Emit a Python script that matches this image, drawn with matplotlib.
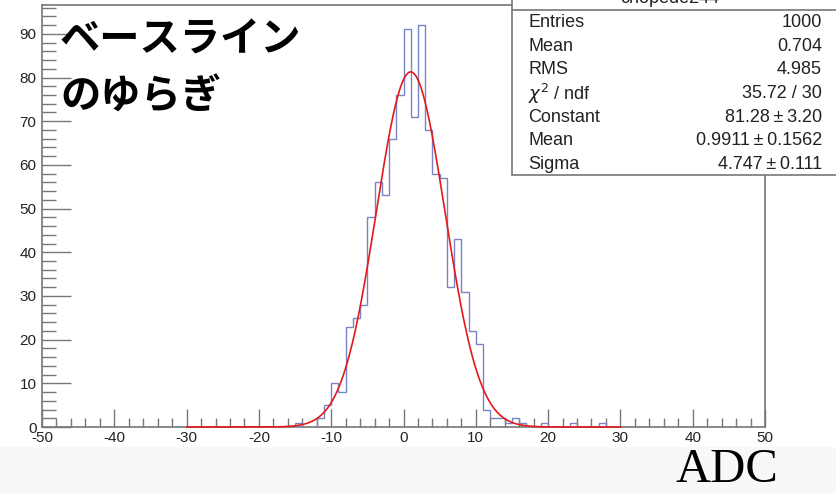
import numpy as np
import matplotlib
matplotlib.use("Agg")
import matplotlib.pyplot as plt
from matplotlib.patches import Rectangle
from matplotlib.lines import Line2D

plt.rcParams['font.family'] = ['Liberation Sans', 'DejaVu Sans']
plt.rcParams['axes.unicode_minus'] = False

# ---- data ----
bin_low = [-15, -12, -11, -10, -9, -8, -7, -6, -5, -4, -3, -2, -1, 0, 1, 2, 3, 4,
           5, 6, 7, 8, 9, 10, 11, 12, 13, 14, 15, 16, 19, 23, 27]
counts = [1, 2, 5, 10, 8, 23, 25, 28, 48, 56, 53, 66, 76, 91, 71, 92, 68, 58,
          57, 32, 43, 31, 22, 19, 4, 2, 2, 1, 2, 1, 1, 1, 1]
hist_range = (-50, 50)
fit_range = (-30, 30)
fit_constant = 81.28
fit_mean = 0.9911
fit_sigma = 4.747

stats_title = "chopede244"
stats_labels = ["Entries", "Mean", "RMS", r"$\chi^{2}$ / ndf", "Constant", "Mean", "Sigma"]
stats_values = ["1000", "0.704", "4.985", "35.72 / 30", "81.28\u2009\u00b1\u20093.20",
                "0.9911\u2009\u00b1\u20090.1562", "4.747\u2009\u00b1\u20090.111"]
title_lines = ["ベースライン", "のゆらぎ"]
x_label = "ADC"

# ---- figure ----
W, H = 836, 494
fig = plt.figure(figsize=(W / 100, H / 100), dpi=100)
fig.patch.set_facecolor("white")

def fx(px):
    return px / W

def fy(py):
    return 1 - py / H

# faint slide background at the bottom
fig.patches.append(Rectangle((0, 0), 1, fy(447), transform=fig.transFigure,
                             facecolor="#f8f8f8", edgecolor="none", zorder=-10))

ax = fig.add_axes([fx(42), fy(427), fx(765) - fx(42), fy(5) - fy(427)])
edges = np.arange(hist_range[0], hist_range[1] + 1)
hist = np.zeros(len(edges) - 1)
for lo, c in zip(bin_low, counts):
    hist[lo - hist_range[0]] = c

ax.stairs(hist, edges, color="#7a84c4", linewidth=1.0, zorder=3)

xf = np.linspace(fit_range[0], fit_range[1], 600)
yf = fit_constant * np.exp(-0.5 * ((xf - fit_mean) / fit_sigma) ** 2)
ax.plot(xf, yf, color="#e3191c", linewidth=1.2, zorder=5, clip_on=False)

ax.set_xlim(*hist_range)
ax.set_ylim(0, 1.05 * max(counts))
ax.set_xticks(np.arange(-50, 51, 10))
ax.set_xticks(np.arange(-50, 51, 2), minor=True)
ax.set_yticks(np.arange(0, 91, 10))
ax.set_yticks(np.arange(0, 97, 2), minor=True)

frame_col = "#777777"
for s in ax.spines.values():
    s.set_color(frame_col)
    s.set_linewidth(1.2)
ax.tick_params(axis="x", which="major", direction="in", length=13, width=1, color=frame_col,
               labelsize=11, pad=3, labelcolor="#222222")
ax.tick_params(axis="x", which="minor", direction="in", length=6.5, width=1, color=frame_col)
ax.tick_params(axis="y", which="major", direction="in", length=21, width=1, color=frame_col,
               labelsize=11, pad=4, labelcolor="#222222")
ax.tick_params(axis="y", which="minor", direction="in", length=10, width=1, color=frame_col)

# Japanese title text
for i, line in enumerate(title_lines):
    fig.text(fx(60), fy(40 + 57 * i), line, ha="left", va="center", fontsize=29,
             fontweight="bold", family=["Noto Sans CJK JP", "DejaVu Sans"], color="black",
             zorder=10)

# stats box
box_left, box_bottom, box_right, box_top = 512, 175, 850, -20
fig.patches.append(Rectangle((fx(box_left), fy(box_bottom)), fx(box_right) - fx(box_left),
                             fy(box_top) - fy(box_bottom), transform=fig.transFigure,
                             facecolor="white", edgecolor=frame_col, linewidth=1.2, zorder=20))
fig.lines.append(Line2D([fx(box_left), fx(W)], [fy(10), fy(10)], transform=fig.transFigure,
                        color=frame_col, linewidth=1.2, zorder=21))
fig.text(fx(670), fy(-1), stats_title, ha="center", va="center", fontsize=13, color="#222222",
         zorder=22)
for i, (lab, val) in enumerate(zip(stats_labels, stats_values)):
    yy = fy(22.5 + 23.67 * i)
    fig.text(fx(528), yy, lab, ha="left", va="center", fontsize=13, color="#222222", zorder=22)
    fig.text(fx(822), yy, val, ha="right", va="center", fontsize=13, color="#222222", zorder=22)

# ADC label
fig.text(fx(727), fy(470), x_label, ha="center", va="center", fontsize=35,
         family=["Liberation Serif", "DejaVu Serif"], color="black")

fig.savefig("out.png", dpi=100)
